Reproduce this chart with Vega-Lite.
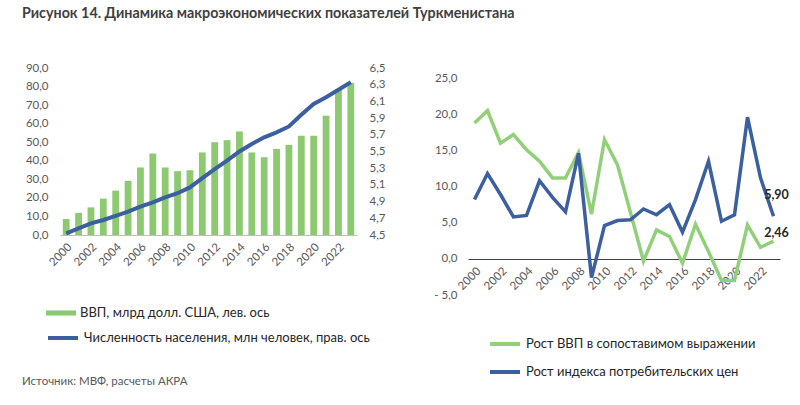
{
  "$schema": "https://vega.github.io/schema/vega-lite/v6.json",
  "autosize": {"type": "pad"},
  "padding": {"left": 22, "top": 6, "right": 5, "bottom": 5},
  "background": "white",
  "bounds": "flush",
  "spacing": 111,
  "config": {
    "font": "Lato",
    "view": {"stroke": null},
    "locale": {"number": {"decimal": ",", "thousands": " ", "grouping": [3], "currency": ["", ""]}},
    "axis": {"labelFont": "Lato", "labelFontSize": 11.5, "labelColor": "#595959", "ticks": false, "grid": false, "title": null},
    "legend": {"labelFont": "Lato", "labelFontSize": 13, "labelColor": "#262626", "padding": 0, "labelLimit": 0}
  },
  "title": {"text": "Рисунок 14. Динамика макроэкономических показателей Туркменистана", "anchor": "start", "frame": "bounds", "fontSize": 14.3, "fontWeight": "bold", "color": "#404040", "font": "Lato", "offset": 41},
  "datasets": {
    "left": [
      {"year": 2000, "gdp": 8.6, "pop": 4.52},
      {"year": 2001, "gdp": 11.9, "pop": 4.58},
      {"year": 2002, "gdp": 14.9, "pop": 4.64},
      {"year": 2003, "gdp": 19.6, "pop": 4.68},
      {"year": 2004, "gdp": 23.9, "pop": 4.73},
      {"year": 2005, "gdp": 29.2, "pop": 4.78},
      {"year": 2006, "gdp": 36.4, "pop": 4.84},
      {"year": 2007, "gdp": 43.9, "pop": 4.89},
      {"year": 2008, "gdp": 36.4, "pop": 4.95},
      {"year": 2009, "gdp": 34.4, "pop": 5.0},
      {"year": 2010, "gdp": 34.9, "pop": 5.07},
      {"year": 2011, "gdp": 44.5, "pop": 5.18},
      {"year": 2012, "gdp": 50.0, "pop": 5.29},
      {"year": 2013, "gdp": 51.1, "pop": 5.39},
      {"year": 2014, "gdp": 55.8, "pop": 5.5},
      {"year": 2015, "gdp": 44.5, "pop": 5.59},
      {"year": 2016, "gdp": 41.9, "pop": 5.67},
      {"year": 2017, "gdp": 46.4, "pop": 5.73},
      {"year": 2018, "gdp": 48.6, "pop": 5.8},
      {"year": 2019, "gdp": 53.5, "pop": 5.94},
      {"year": 2020, "gdp": 53.5, "pop": 6.07},
      {"year": 2021, "gdp": 64.3, "pop": 6.15},
      {"year": 2022, "gdp": 78.3, "pop": 6.24},
      {"year": 2023, "gdp": 81.9, "pop": 6.33}
    ],
    "right": [
      {"year": 2000, "series": "Рост ВВП в сопоставимом выражении", "value": 18.8},
      {"year": 2001, "series": "Рост ВВП в сопоставимом выражении", "value": 20.5},
      {"year": 2002, "series": "Рост ВВП в сопоставимом выражении", "value": 16.0},
      {"year": 2003, "series": "Рост ВВП в сопоставимом выражении", "value": 17.2},
      {"year": 2004, "series": "Рост ВВП в сопоставимом выражении", "value": 15.1},
      {"year": 2005, "series": "Рост ВВП в сопоставимом выражении", "value": 13.5},
      {"year": 2006, "series": "Рост ВВП в сопоставимом выражении", "value": 11.2},
      {"year": 2007, "series": "Рост ВВП в сопоставимом выражении", "value": 11.2},
      {"year": 2008, "series": "Рост ВВП в сопоставимом выражении", "value": 14.7},
      {"year": 2009, "series": "Рост ВВП в сопоставимом выражении", "value": 6.2},
      {"year": 2010, "series": "Рост ВВП в сопоставимом выражении", "value": 16.5},
      {"year": 2011, "series": "Рост ВВП в сопоставимом выражении", "value": 13.0},
      {"year": 2012, "series": "Рост ВВП в сопоставимом выражении", "value": 6.4},
      {"year": 2013, "series": "Рост ВВП в сопоставимом выражении", "value": -0.3},
      {"year": 2014, "series": "Рост ВВП в сопоставимом выражении", "value": 4.0},
      {"year": 2015, "series": "Рост ВВП в сопоставимом выражении", "value": 3.1},
      {"year": 2016, "series": "Рост ВВП в сопоставимом выражении", "value": -0.6},
      {"year": 2017, "series": "Рост ВВП в сопоставимом выражении", "value": 4.8},
      {"year": 2018, "series": "Рост ВВП в сопоставимом выражении", "value": 1.0},
      {"year": 2019, "series": "Рост ВВП в сопоставимом выражении", "value": -3.0},
      {"year": 2020, "series": "Рост ВВП в сопоставимом выражении", "value": -3.0},
      {"year": 2021, "series": "Рост ВВП в сопоставимом выражении", "value": 4.7},
      {"year": 2022, "series": "Рост ВВП в сопоставимом выражении", "value": 1.6},
      {"year": 2023, "series": "Рост ВВП в сопоставимом выражении", "value": 2.46},
      {"year": 2000, "series": "Рост индекса потребительских цен", "value": 8.2},
      {"year": 2001, "series": "Рост индекса потребительских цен", "value": 11.8},
      {"year": 2002, "series": "Рост индекса потребительских цен", "value": 8.9},
      {"year": 2003, "series": "Рост индекса потребительских цен", "value": 5.8},
      {"year": 2004, "series": "Рост индекса потребительских цен", "value": 6.0},
      {"year": 2005, "series": "Рост индекса потребительских цен", "value": 10.8},
      {"year": 2006, "series": "Рост индекса потребительских цен", "value": 8.5},
      {"year": 2007, "series": "Рост индекса потребительских цен", "value": 6.5},
      {"year": 2008, "series": "Рост индекса потребительских цен", "value": 14.6},
      {"year": 2009, "series": "Рост индекса потребительских цен", "value": -2.6},
      {"year": 2010, "series": "Рост индекса потребительских цен", "value": 4.6},
      {"year": 2011, "series": "Рост индекса потребительских цен", "value": 5.3},
      {"year": 2012, "series": "Рост индекса потребительских цен", "value": 5.4},
      {"year": 2013, "series": "Рост индекса потребительских цен", "value": 6.9},
      {"year": 2014, "series": "Рост индекса потребительских цен", "value": 6.1},
      {"year": 2015, "series": "Рост индекса потребительских цен", "value": 7.5},
      {"year": 2016, "series": "Рост индекса потребительских цен", "value": 3.7},
      {"year": 2017, "series": "Рост индекса потребительских цен", "value": 8.2},
      {"year": 2018, "series": "Рост индекса потребительских цен", "value": 13.5},
      {"year": 2019, "series": "Рост индекса потребительских цен", "value": 5.2},
      {"year": 2020, "series": "Рост индекса потребительских цен", "value": 6.1},
      {"year": 2021, "series": "Рост индекса потребительских цен", "value": 19.6},
      {"year": 2022, "series": "Рост индекса потребительских цен", "value": 11.2},
      {"year": 2023, "series": "Рост индекса потребительских цен", "value": 5.9}
    ]
  },
  "hconcat": [
    {
      "width": 297,
      "height": 167,
      "data": {"name": "left"},
      "title": {"text": "Источник: МВФ, расчеты АКРА", "orient": "bottom", "anchor": "start", "frame": "group", "dx": -38, "offset": 30, "fontSize": 11.5, "fontWeight": "normal", "color": "#595959"},
      "encoding": {
        "x": {"field": "year", "type": "ordinal", "scale": {"paddingInner": 0.45, "paddingOuter": 0.225},
          "axis": {"values": [2000, 2002, 2004, 2006, 2008, 2010, 2012, 2014, 2016, 2018, 2020, 2022], "labelAngle": -45, "domainColor": "#BFBFBF", "labelPadding": 6}}
      },
      "layer": [
        {
          "mark": {"type": "bar"},
          "encoding": {
            "y": {"field": "gdp", "type": "quantitative", "scale": {"domain": [0, 90], "nice": false},
              "axis": {"values": [0, 10, 20, 30, 40, 50, 60, 70, 80, 90], "format": ".1f", "domain": false, "labelPadding": 12}},
            "fill": {"datum": "ВВП, млрд долл. США, лев. ось", "type": "nominal", "scale": {"range": ["#8DC971"]},
              "legend": {"orient": "none", "legendX": -14, "legendY": 230, "symbolType": "M-1,-0.17H1V0.17H-1Z", "symbolSize": 900, "symbolStrokeWidth": 0, "labelOffset": 4, "title": null}}
          }
        },
        {
          "mark": {"type": "line", "strokeWidth": 4},
          "encoding": {
            "y": {"field": "pop", "type": "quantitative", "scale": {"domain": [4.5, 6.5], "nice": false, "zero": false},
              "axis": {"orient": "right", "values": [4.5, 4.7, 4.9, 5.1, 5.3, 5.5, 5.7, 5.9, 6.1, 6.3, 6.5], "format": ".1f", "domain": false, "labelPadding": 12}},
            "stroke": {"datum": "Численность населения, млн человек, прав. ось", "type": "nominal", "scale": {"range": ["#3B5F9F"]},
              "legend": {"orient": "none", "legendX": -14, "legendY": 253, "symbolType": "stroke", "symbolSize": 900, "symbolStrokeWidth": 4, "labelOffset": 4, "title": null}}
          }
        }
      ],
      "resolve": {"scale": {"y": "independent", "fill": "independent", "stroke": "independent"}}
    },
    {
      "width": 312,
      "height": 227,
      "data": {"name": "right"},
      "encoding": {
        "x": {"field": "year", "type": "ordinal", "scale": {"type": "point", "padding": 0.5},
          "axis": {"values": [2000, 2002, 2004, 2006, 2008, 2010, 2012, 2014, 2016, 2018, 2020, 2022], "labelAngle": -45, "domainColor": "#404040", "offset": -36, "labelPadding": 6}},
        "y": {"field": "value", "type": "quantitative", "scale": {"domain": [-5, 26.4], "nice": false},
          "axis": {"values": [-5, 0, 5, 10, 15, 20, 25], "labelExpr": "datum.value < 0 ? '- ' + format(-datum.value, '.1f') : format(datum.value, '.1f')", "domain": false, "labelPadding": 11}}
      },
      "layer": [
        {
          "mark": {"type": "line", "strokeWidth": 3.5},
          "encoding": {
            "stroke": {"field": "series", "type": "nominal", "sort": ["Рост ВВП в сопоставимом выражении", "Рост индекса потребительских цен"],
              "scale": {"domain": ["Рост ВВП в сопоставимом выражении", "Рост индекса потребительских цен"], "range": ["#92CF79", "#3B5F9F"]},
              "legend": {"orient": "none", "legendX": 428, "legendY": 259, "symbolType": "stroke", "symbolSize": 900, "symbolStrokeWidth": 4, "labelOffset": 4, "rowPadding": 3, "title": null}}
          }
        },
        {
          "transform": [{"filter": "datum.year == 2023 && datum.series == 'Рост индекса потребительских цен'"}],
          "mark": {"type": "text", "dy": -21, "dx": 3, "fontWeight": "bold", "fontSize": 12.5, "color": "#262626"},
          "encoding": {"text": {"field": "value", "type": "quantitative", "format": ".2f"}}
        },
        {
          "transform": [{"filter": "datum.year == 2023 && datum.series == 'Рост ВВП в сопоставимом выражении'"}],
          "mark": {"type": "text", "dy": -8, "dx": 3, "fontWeight": "bold", "fontSize": 12.5, "color": "#262626"},
          "encoding": {"text": {"field": "value", "type": "quantitative", "format": ".2f"}}
        }
      ]
    }
  ]
}
